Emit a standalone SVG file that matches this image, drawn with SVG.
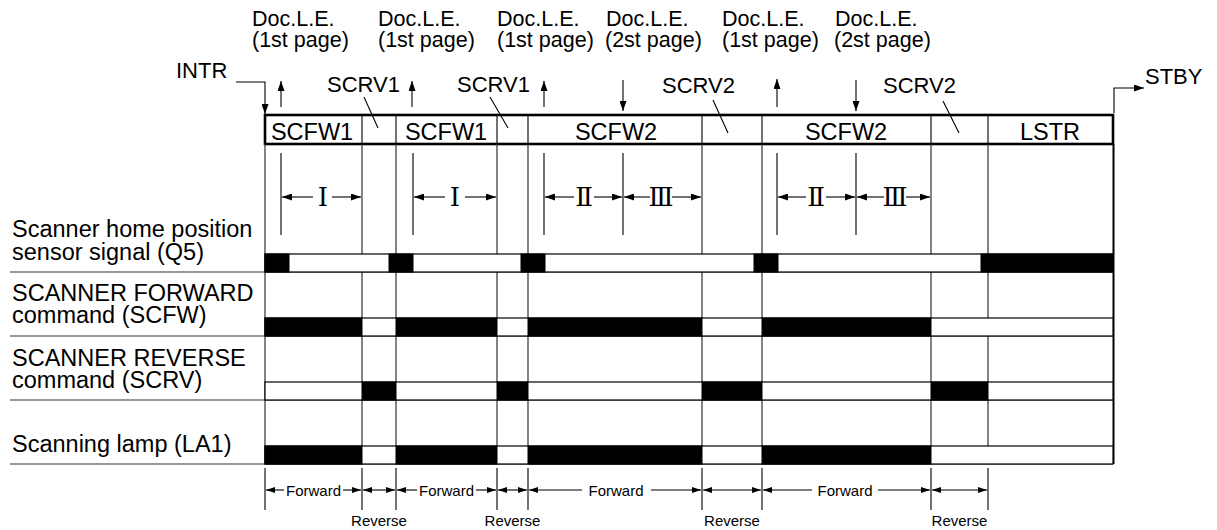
<svg xmlns="http://www.w3.org/2000/svg" width="1217" height="530" viewBox="0 0 1217 530">
<style>
  text { font-family: "Liberation Sans", Arial, sans-serif; fill: #000; }
  .lbl { font-size: 23.5px; }
  .doc { font-size: 21.5px; }
  .scr { font-size: 22px; }
  .hdr { font-size: 23.5px; text-anchor: middle; }
  .smc { font-size: 15px; text-anchor: middle; }
  .rn { font-family: "Liberation Serif", "DejaVu Serif", "Noto Sans CJK JP", serif; font-size: 26px; text-anchor: middle; }
  .ln { stroke: #000; stroke-width: 1.1; fill: none; }
  .grid { stroke: #333; stroke-width: 1.2; fill: none; }
  .on { fill: #000; stroke: #000; stroke-width: 1; }
  .band { fill: #fff; stroke: #000; stroke-width: 1.2; }
  .arr { stroke: #000; stroke-width: 1.1; fill: none; marker-end: url(#ah); }
  .arrs { stroke: #000; stroke-width: 1.1; fill: none; marker-end: url(#ahs); }
  .dbl { stroke: #000; stroke-width: 1.1; fill: none; marker-start: url(#ahs); marker-end: url(#ahs); }
</style>
<defs>
  <marker id="ah" viewBox="0 0 10 7" refX="10" refY="3.5" markerWidth="10" markerHeight="7" markerUnits="userSpaceOnUse" orient="auto-start-reverse">
    <path d="M0,0 L10,3.5 L0,7 z" fill="#000"/>
  </marker>
  <marker id="ahs" viewBox="0 0 9 6" refX="9" refY="3" markerWidth="9" markerHeight="6" markerUnits="userSpaceOnUse" orient="auto-start-reverse">
    <path d="M0,0 L9,3 L0,6 z" fill="#000"/>
  </marker>
</defs>
<rect width="1217" height="530" fill="#fff"/>

<!-- top labels -->
<g id="doc-labels">
  <text class="doc" x="252" y="26">Doc.L.E.<tspan x="252" y="47">(1st page)</tspan></text>
  <text class="doc" x="378" y="26">Doc.L.E.<tspan x="378" y="47">(1st page)</tspan></text>
  <text class="doc" x="497" y="26">Doc.L.E.<tspan x="497" y="47">(1st page)</tspan></text>
  <text class="doc" x="606" y="26">Doc.L.E.<tspan x="605" y="47">(2st page)</tspan></text>
  <text class="doc" x="722" y="26">Doc.L.E.<tspan x="722" y="47">(1st page)</tspan></text>
  <text class="doc" x="835" y="26">Doc.L.E.<tspan x="834" y="47">(2st page)</tspan></text>
</g>

<g id="intr">
  <text class="scr" x="176" y="78">INTR</text>
</g>
<g id="stby">
  <text class="scr" x="1145" y="84">STBY</text>
</g>

<g id="scrv-labels">
  <text class="scr" x="327" y="92">SCRV1</text>
  <text class="scr" x="457" y="92">SCRV1</text>
  <text class="scr" x="662" y="93">SCRV2</text>
  <text class="scr" x="883" y="93">SCRV2</text>
</g>

<!-- header sequence box -->
<g id="header">
  <rect x="265" y="115" width="848" height="29" fill="none" stroke="#000" stroke-width="2.6"/>
  <path class="ln" d="M362,115V144 M396,115V144 M497,115V144 M528,115V144 M702,115V144 M762,115V144 M931,115V144 M988,115V144"/>
  <text class="hdr" x="312" y="140">SCFW1</text>
  <text class="hdr" x="446" y="140">SCFW1</text>
  <text class="hdr" x="616" y="140">SCFW2</text>
  <text class="hdr" x="846" y="140">SCFW2</text>
  <text class="hdr" x="1050" y="140">LSTR</text>
</g>

<!-- row labels -->
<g id="row-labels">
  <text class="lbl" x="12" y="237">Scanner home position<tspan x="12" y="260">sensor signal (Q5)</tspan></text>
  <text class="lbl" x="12" y="301">SCANNER FORWARD<tspan x="12" y="323">command (SCFW)</tspan></text>
  <text class="lbl" x="12" y="366">SCANNER REVERSE<tspan x="12" y="388">command (SCRV)</tspan></text>
  <text class="lbl" x="12" y="452">Scanning lamp (LA1)</text>
</g>

<!-- grid -->
<g id="grid">
  <path class="grid" d="M265,144V464 M362,144V464 M396,144V464 M497,144V464 M528,144V464 M702,144V464 M762,144V464 M931,144V464 M988,144V464"/>
  <path d="M1113.5,144V464" stroke="#000" stroke-width="2" fill="none"/>
  <path class="grid" d="M10,272H1113 M10,336H1113 M10,400H1113 M10,464H1113"/>
</g>

<!-- Q5 signal -->
<g id="sig-q5">
  <rect class="band" x="265" y="254" width="848" height="18"/>
  <rect class="on" x="265" y="254" width="24" height="18"/>
  <rect class="on" x="389" y="254" width="24" height="18"/>
  <rect class="on" x="521" y="254" width="24" height="18"/>
  <rect class="on" x="754" y="254" width="24" height="18"/>
  <rect class="on" x="981" y="254" width="132" height="18"/>
</g>

<!-- SCFW signal -->
<g id="sig-scfw">
  <rect class="band" x="265" y="318" width="848" height="18"/>
  <rect class="on" x="265" y="318" width="97" height="18"/>
  <rect class="on" x="396" y="318" width="101" height="18"/>
  <rect class="on" x="528" y="318" width="174" height="18"/>
  <rect class="on" x="762" y="318" width="169" height="18"/>
</g>

<!-- SCRV signal -->
<g id="sig-scrv">
  <rect class="band" x="265" y="382" width="848" height="18"/>
  <rect class="on" x="362" y="382" width="34" height="18"/>
  <rect class="on" x="497" y="382" width="31" height="18"/>
  <rect class="on" x="702" y="382" width="60" height="18"/>
  <rect class="on" x="931" y="382" width="57" height="18"/>
</g>

<!-- LA1 signal -->
<g id="sig-la1">
  <rect class="band" x="265" y="446" width="848" height="18"/>
  <rect class="on" x="265" y="446" width="97" height="18"/>
  <rect class="on" x="396" y="446" width="101" height="18"/>
  <rect class="on" x="528" y="446" width="174" height="18"/>
  <rect class="on" x="762" y="446" width="169" height="18"/>
</g>

<!-- interval markers I / II / III -->
<g id="intervals">
  <path class="ln" d="M281,153V235 M413,153V235 M544,153V235 M623,153V235 M777,153V235 M856,153V235"/>
  <path class="arr" d="M313,197H282"/>
  <text class="rn" x="323" y="206">Ⅰ</text>
  <path class="arr" d="M332,197H361"/>
  <path class="arr" d="M445,197H414"/>
  <text class="rn" x="455" y="206">Ⅰ</text>
  <path class="arr" d="M465,197H496"/>
  <path class="arr" d="M574,197H545"/>
  <text class="rn" x="584" y="206">Ⅱ</text>
  <path class="arr" d="M594,197H622"/>
  <path class="arr" d="M650,197H624"/>
  <text class="rn" x="661" y="206">Ⅲ</text>
  <path class="arr" d="M672,197H701"/>
  <path class="arr" d="M806,197H778"/>
  <text class="rn" x="816" y="206">Ⅱ</text>
  <path class="arr" d="M826,197H855"/>
  <path class="arr" d="M884,197H857"/>
  <text class="rn" x="895" y="206">Ⅲ</text>
  <path class="arr" d="M906,197H930"/>
</g>

<!-- connectors -->
<g id="connectors">
  <path class="arr" d="M236,82H265V114"/>
  <path class="arr" d="M1114,113V88H1144"/>
  <path class="arr" d="M281,107V81"/>
  <path class="arr" d="M412,107V81"/>
  <path class="arr" d="M544,107V81"/>
  <path class="arr" d="M777,107V79"/>
  <path class="arr" d="M623,80V111"/>
  <path class="arr" d="M856,80V111"/>
  <path class="ln" d="M364,97L378,128 M490,97L508,128 M713,100L728,133 M943,101L959,133"/>
</g>

<!-- bottom forward/reverse scale -->
<g id="scale">
  <path class="ln" d="M265,468V510 M362,468V510 M396,468V510 M497,468V510 M528,468V510 M702,468V510 M762,468V510 M931,468V510 M988,468V510"/>
  <path class="arrs" d="M284,490H266"/>
  <text class="smc" x="313.5" y="495.5">Forward</text>
  <path class="arrs" d="M343,490H361"/>
  <path class="dbl" d="M363,490H395"/>
  <path class="arrs" d="M417,490H397"/>
  <text class="smc" x="446.5" y="495.5">Forward</text>
  <path class="arrs" d="M476,490H496"/>
  <path class="dbl" d="M498,490H527"/>
  <path class="arrs" d="M582,490H529"/>
  <text class="smc" x="616" y="495.5">Forward</text>
  <path class="arrs" d="M651,490H701"/>
  <path class="dbl" d="M703,490H761"/>
  <path class="arrs" d="M812,490H763"/>
  <text class="smc" x="845" y="495.5">Forward</text>
  <path class="arrs" d="M878,490H930"/>
  <path class="dbl" d="M932,490H987"/>
  <text class="smc" x="379" y="526">Reverse</text>
  <text class="smc" x="512.5" y="526">Reverse</text>
  <text class="smc" x="732" y="526">Reverse</text>
  <text class="smc" x="959.5" y="526">Reverse</text>
</g>
</svg>
